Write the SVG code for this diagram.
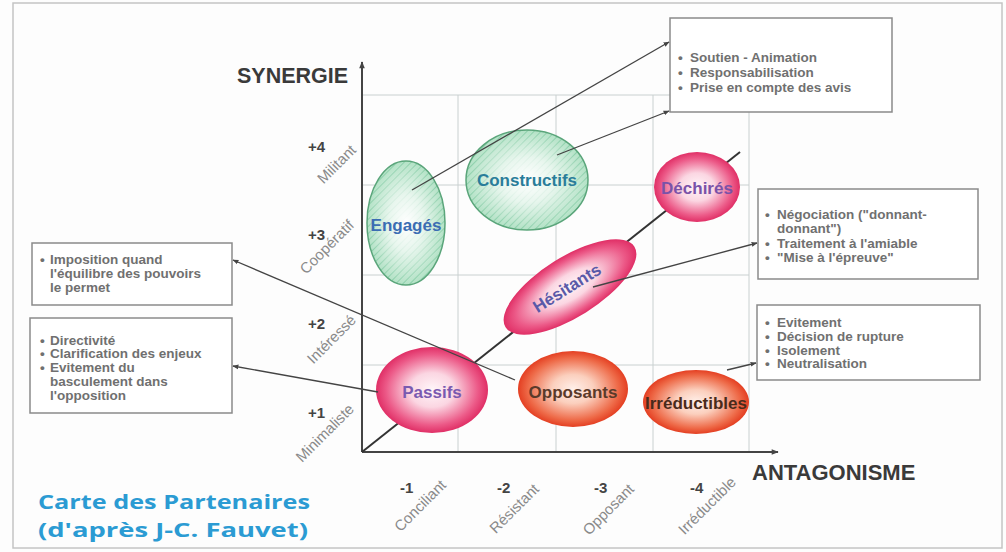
<svg xmlns="http://www.w3.org/2000/svg" width="1006" height="552" viewBox="0 0 1006 552">
<defs>
<style>
.grid{stroke:#c9d0d0;stroke-width:1;fill:none}
.axis{stroke:#444;stroke-width:2;fill:none}
.box{fill:#fff;stroke:#8a8a8a;stroke-width:1.5}
.bt{font-family:"Liberation Sans",Arial,sans-serif;font-size:13.5px;font-weight:bold;fill:#707070}
.lbl{font-family:"Liberation Sans",Arial,sans-serif;font-size:17px;font-weight:bold;text-anchor:middle}
.num{font-family:"Liberation Sans",Arial,sans-serif;font-size:15px;font-weight:bold;fill:#444}
.rot{font-family:"Liberation Sans",Arial,sans-serif;font-size:15px;fill:#8a8a8a;text-anchor:end}
.ax{font-family:"Liberation Sans",Arial,sans-serif;font-weight:bold;fill:#3a3a3a}
.con{stroke:#444;stroke-width:1.3;fill:none;marker-end:url(#ah)}
.title{font-family:"Open Sans","Liberation Sans",sans-serif;font-size:20px;font-weight:700;fill:#2b9bd3}
</style>
<marker id="ah" viewBox="0 0 10 10" refX="9" refY="5" markerWidth="6" markerHeight="6" orient="auto" markerUnits="userSpaceOnUse">
<path d="M0,1 L10,5 L0,9 z" fill="#444"/>
</marker>
<marker id="axh" viewBox="0 0 10 10" refX="9" refY="5" markerWidth="8" markerHeight="7" orient="auto" markerUnits="userSpaceOnUse">
<path d="M0,1 L10,5 L0,9 z" fill="#444"/>
</marker>
<pattern id="hatch" width="5" height="5" patternUnits="userSpaceOnUse" patternTransform="rotate(45)">
<rect width="5" height="5" fill="#b3e2c6"/>
<line x1="0" y1="0" x2="0" y2="5" stroke="#86cda6" stroke-width="2"/>
</pattern>
<radialGradient id="wcen" cx="0.5" cy="0.5" r="0.5">
<stop offset="0" stop-color="#fff" stop-opacity="1"/>
<stop offset="0.45" stop-color="#fff" stop-opacity="0.7"/>
<stop offset="1" stop-color="#fff" stop-opacity="0"/>
</radialGradient>
<radialGradient id="pink" cx="0.5" cy="0.5" r="0.5">
<stop offset="0" stop-color="#fff6f9"/>
<stop offset="0.4" stop-color="#fbd6e2"/>
<stop offset="0.82" stop-color="#ec5a88"/>
<stop offset="1" stop-color="#e02f66"/>
</radialGradient>
<radialGradient id="red" cx="0.5" cy="0.5" r="0.5">
<stop offset="0" stop-color="#fff0ea"/>
<stop offset="0.38" stop-color="#fbcfbd"/>
<stop offset="0.82" stop-color="#ee6a48"/>
<stop offset="1" stop-color="#e43f22"/>
</radialGradient>
</defs>
<rect x="0" y="0" width="1006" height="552" fill="#fdfdfd"/>
<rect x="13" y="3" width="989" height="545" fill="none" stroke="#c4c4c4" stroke-width="1.5"/>

<g id="grid">
<path class="grid" d="M362,95 H749 M362,185 H749 M362,275 H749 M362,365 H749 M458,95 V452 M556,95 V452 M653,95 V452 M749,95 V452"/>
</g>
<g id="axes">
<line class="axis" x1="362" y1="452" x2="362" y2="62" marker-end="url(#axh)"/>
<line class="axis" x1="362" y1="452" x2="778" y2="452" marker-end="url(#axh)"/>
<line x1="362" y1="452" x2="740" y2="152" stroke="#333" stroke-width="2"/>
<text class="ax" x="237" y="83" font-size="21.5">SYNERGIE</text>
<text class="ax" x="752" y="480" font-size="22">ANTAGONISME</text>
<text class="num" x="308" y="152">+4</text>
<text class="num" x="308" y="240">+3</text>
<text class="num" x="308" y="329">+2</text>
<text class="num" x="308" y="418">+1</text>
<text class="rot" transform="translate(357,151) rotate(-45)">Militant</text>
<text class="rot" transform="translate(355,226) rotate(-45)">Coopératif</text>
<text class="rot" transform="translate(357,321) rotate(-45)">Intéressé</text>
<text class="rot" transform="translate(355,410) rotate(-45)">Minimaliste</text>
<text class="num" x="400" y="493">-1</text>
<text class="num" x="497" y="493">-2</text>
<text class="num" x="594" y="493">-3</text>
<text class="num" x="690" y="493">-4</text>
<text class="rot" transform="translate(447,486) rotate(-45)">Conciliant</text>
<text class="rot" transform="translate(540,490) rotate(-45)">Résistant</text>
<text class="rot" transform="translate(635,490) rotate(-45)">Opposant</text>
<text class="rot" transform="translate(737,483) rotate(-45)">Irréductible</text>
</g>

<g id="engages">
<ellipse cx="406" cy="223" rx="39" ry="62" fill="url(#hatch)" stroke="#5aa57a" stroke-width="1.5"/>
<ellipse cx="406" cy="223" rx="39" ry="62" fill="url(#wcen)"/>
<text class="lbl" x="406" y="231" fill="#3b6db3">Engagés</text>
</g>
<g id="constructifs">
<ellipse cx="527" cy="180" rx="61" ry="50" fill="url(#hatch)" stroke="#5aa57a" stroke-width="1.5"/>
<ellipse cx="527" cy="180" rx="61" ry="50" fill="url(#wcen)"/>
<text class="lbl" x="527" y="186" fill="#2a7d9a">Constructifs</text>
</g>
<g id="dechires">
<ellipse cx="697" cy="187" rx="43" ry="35" fill="url(#pink)"/>
<text class="lbl" x="697" y="194" fill="#7a52a8">Déchirés</text>
</g>
<g id="hesitants">
<ellipse cx="0" cy="0" rx="76" ry="30" fill="url(#pink)" transform="translate(570,287) rotate(-32)"/>
<text class="lbl" transform="translate(570,293) rotate(-32)" fill="#5a5aa8">Hésitants</text>
</g>
<g id="passifs">
<ellipse cx="432" cy="390" rx="56" ry="43" fill="url(#pink)"/>
<text class="lbl" x="432" y="398" fill="#7a5ab0">Passifs</text>
</g>
<g id="opposants">
<ellipse cx="573" cy="389" rx="55" ry="38" fill="url(#red)"/>
<text class="lbl" x="573" y="398" fill="#5a3a2a">Opposants</text>
</g>
<g id="irreductibles">
<ellipse cx="696" cy="402" rx="53" ry="32" fill="url(#red)"/>
<text class="lbl" x="696" y="409" fill="#4a2a1a">Irréductibles</text>
</g>

<g id="box-top">
<rect class="box" x="670" y="18" width="222" height="94"/>
<text class="bt" x="678" y="62">•</text><text class="bt" x="690" y="62">Soutien - Animation</text>
<text class="bt" x="678" y="77">•</text><text class="bt" x="690" y="77">Responsabilisation</text>
<text class="bt" x="678" y="92">•</text><text class="bt" x="690" y="92">Prise en compte des avis</text>
</g>
<g id="box-nego">
<rect class="box" x="758" y="189" width="220" height="90"/>
<text class="bt" x="765" y="219">•</text><text class="bt" x="777" y="219">Négociation ("donnant-</text>
<text class="bt" x="777" y="233">donnant")</text>
<text class="bt" x="765" y="248">•</text><text class="bt" x="777" y="248">Traitement à l'amiable</text>
<text class="bt" x="765" y="262">•</text><text class="bt" x="777" y="262">"Mise à l'épreuve"</text>
</g>
<g id="box-evit">
<rect class="box" x="757" y="305" width="223" height="75"/>
<text class="bt" x="765" y="327">•</text><text class="bt" x="777" y="327">Evitement</text>
<text class="bt" x="765" y="341">•</text><text class="bt" x="777" y="341">Décision de rupture</text>
<text class="bt" x="765" y="355">•</text><text class="bt" x="777" y="355">Isolement</text>
<text class="bt" x="765" y="368">•</text><text class="bt" x="777" y="368">Neutralisation</text>
</g>
<g id="box-imposition">
<rect class="box" x="32" y="243" width="200" height="62"/>
<text class="bt" x="40" y="264">•</text><text class="bt" x="50" y="264">Imposition quand</text>
<text class="bt" x="50" y="278">l'équilibre des pouvoirs</text>
<text class="bt" x="50" y="292">le permet</text>
</g>
<g id="box-directivite">
<rect class="box" x="30" y="318" width="202" height="95"/>
<text class="bt" x="40" y="345">•</text><text class="bt" x="50" y="345">Directivité</text>
<text class="bt" x="40" y="358">•</text><text class="bt" x="50" y="358">Clarification des enjeux</text>
<text class="bt" x="40" y="372">•</text><text class="bt" x="50" y="372">Evitement du</text>
<text class="bt" x="50" y="386">basculement dans</text>
<text class="bt" x="50" y="400">l'opposition</text>
</g>

<g id="connectors">
<line class="con" x1="412" y1="190" x2="669" y2="42"/>
<line class="con" x1="557" y1="155" x2="669" y2="111"/>
<line class="con" x1="593" y1="287" x2="757" y2="243"/>
<line class="con" x1="727" y1="370" x2="756" y2="363"/>
<line class="con" x1="378" y1="392" x2="233" y2="366"/>
<line class="con" x1="515" y1="380" x2="233" y2="260"/>
</g>

<g id="title">
<text class="title" x="38" y="509" textLength="272" lengthAdjust="spacingAndGlyphs">Carte des Partenaires</text>
<text class="title" x="38" y="537" textLength="270" lengthAdjust="spacingAndGlyphs">(d'après J-C. Fauvet)</text>
</g>
</svg>
